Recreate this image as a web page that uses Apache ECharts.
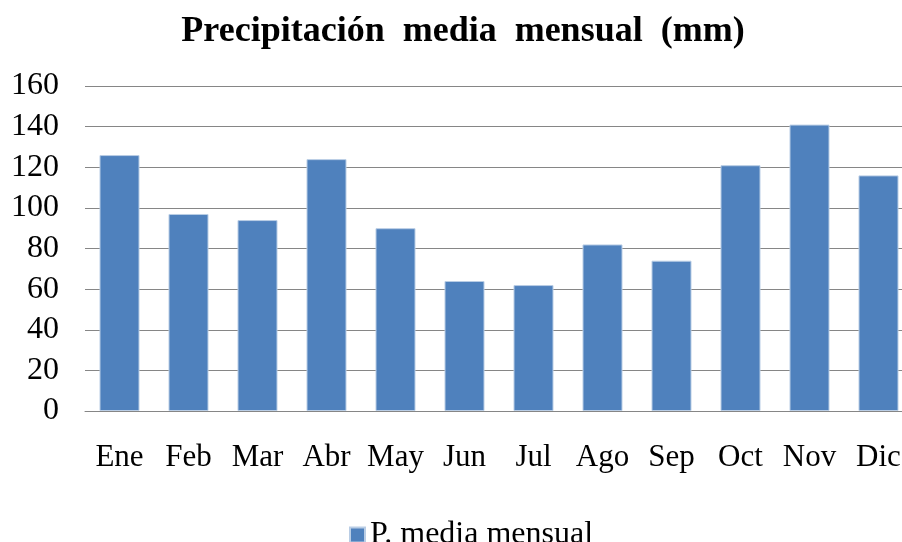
<!DOCTYPE html>
<html>
<head>
<meta charset="utf-8">
<script src="https://cdn.jsdelivr.net/npm/echarts@6/dist/echarts.min.js"></script>
<style>html,body{margin:0;padding:0;background:#fff}#c{width:902px;height:542px}</style>
</head>
<body>
<div id="c"></div>
<script>
const titleText = 'Precipitación  media  mensual  (mm)';
const seriesName = 'P. media mensual';
const categories = ['Ene','Feb','Mar','Abr','May','Jun','Jul','Ago','Sep','Oct','Nov','Dic'];
const values = [126, 97, 94, 124, 90, 64, 62, 82, 74, 121, 141, 116];
const yTicks = [0, 20, 40, 60, 80, 100, 120, 140, 160];

const font = '"Liberation Serif", "Times New Roman", serif';
const chart = echarts.init(document.getElementById('c'), null, {renderer: 'canvas'});
chart.setOption({
  animation: false,
  backgroundColor: '#ffffff',
  title: {
    text: titleText,
    left: 458, textAlign: 'center', top: 9,
    textStyle: {fontFamily: font, fontWeight: 'bold', fontSize: 36, color: '#000'}
  },
  legend: {
    data: [seriesName],
    left: 344, top: 514,
    icon: 'rect', itemWidth: 15, itemHeight: 15, itemGap: 6,
    textStyle: {fontFamily: font, fontSize: 32, color: '#000'}
  },
  grid: {left: 85, top: 86, width: 828, height: 325, containLabel: false, outerBoundsMode: 'none'},
  xAxis: {
    type: 'category', data: categories,
    axisLine: {show: true, lineStyle: {color: '#868686', width: 1}},
    axisTick: {show: false},
    axisLabel: {fontFamily: font, fontSize: 31, color: '#000', margin: 31, interval: 0}
  },
  yAxis: {
    type: 'value', min: yTicks[0], max: yTicks[yTicks.length - 1], interval: 20,
    axisLine: {show: false}, axisTick: {show: false},
    splitLine: {lineStyle: {color: '#868686', width: 1}},
    axisLabel: {fontFamily: font, fontSize: 32, color: '#000', margin: 26}
  },
  series: [{
    name: seriesName, type: 'bar', data: values, barWidth: 40,
    itemStyle: {color: '#4F81BD', borderColor: '#b9cde5', borderWidth: 1}
  }]
});
</script>
</body>
</html>
